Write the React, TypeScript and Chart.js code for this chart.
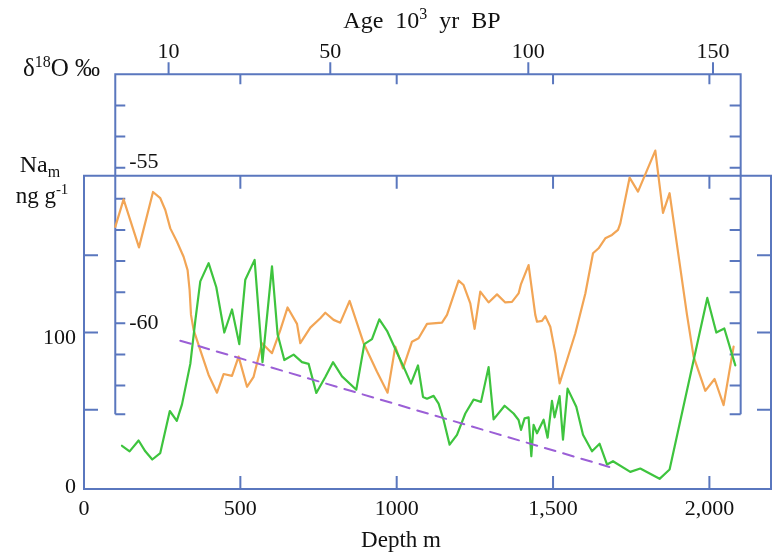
import React, { useEffect, useRef } from 'react';
import { Chart, registerables } from 'chart.js';

Chart.register(...registerables);

// δ18O record (orange), depth in m
const orangeDepth = [100, 126.6, 175.9, 220.7, 244, 260, 276, 297.4, 318.5, 331.3, 337.7, 342.2, 350.5, 371.9, 398.5, 425.3, 446.4, 473.3, 494.4, 521.3, 542.4, 569.2, 601.2, 627.8, 651.1, 681.2, 691.7, 723.7, 755.7, 771.7, 798.2, 819.6, 849.4, 894.2, 937.0, 970.9, 995.5, 1020.1, 1048.9, 1070.0, 1096.9, 1144.9, 1160.9, 1197.9, 1213.9, 1235.4, 1249.1, 1267.3, 1293.9, 1320.8, 1347.3, 1368.7, 1389.8, 1397.5, 1421.8, 1443.2, 1448.7, 1464.7, 1475.2, 1491.2, 1507.2, 1521.0, 1544.6, 1571.3, 1603.3, 1627.8, 1645.7, 1667.1, 1688.5, 1707.7, 1715.1, 1744.8, 1771.7, 1827.0, 1851.6, 1872.7, 1928.4, 1949.5, 1986.9, 2016.6, 2045.4, 2077.4];
const orangeD18O = [-56.90, -56.02, -57.56, -55.78, -55.98, -56.36, -56.95, -57.38, -57.86, -58.29, -58.93, -59.73, -60.21, -60.86, -61.66, -62.23, -61.63, -61.69, -61.07, -62.04, -61.72, -60.64, -60.96, -60.22, -59.49, -60.02, -60.64, -60.14, -59.84, -59.66, -59.89, -59.98, -59.28, -60.64, -61.56, -62.23, -60.75, -61.45, -60.59, -60.48, -60.02, -59.98, -59.73, -58.63, -58.77, -59.36, -60.18, -58.98, -59.33, -59.07, -59.33, -59.31, -59.04, -58.74, -58.13, -59.73, -59.95, -59.92, -59.77, -60.11, -60.96, -61.93, -61.18, -60.32, -59.04, -57.75, -57.59, -57.27, -57.16, -57.00, -56.79, -55.32, -55.77, -54.45, -56.45, -55.82, -59.73, -61.07, -62.17, -61.79, -62.63, -60.75];

// Na_m record (green)
const greenDepth = [121.5, 145.8, 174.6, 196.0, 218.4, 243.9, 274.4, 296.8, 313.4, 340, 355.9, 371.9, 398.5, 423.1, 448.7, 473.3, 496.6, 515.8, 545.6, 570.8, 601.2, 619.1, 640.6, 670.3, 697.2, 718.3, 742.9, 771.7, 796.3, 825.1, 870.8, 896.4, 921.0, 944.4, 969.0, 1002.9, 1020.1, 1045.7, 1068.1, 1084.1, 1096.9, 1118.0, 1134.0, 1150.0, 1169.2, 1192.8, 1219.4, 1245.9, 1269.6, 1293.9, 1309.9, 1345.1, 1373.8, 1389.8, 1397.5, 1409.0, 1421.8, 1430.5, 1437.8, 1448.7, 1469.8, 1482.6, 1496.6, 1504.9, 1520.9, 1531.8, 1546.5, 1574.3, 1595.8, 1624.6, 1648.9, 1672.5, 1691.7, 1747.0, 1779.0, 1840.7, 1872.7, 1993.3, 2022.1, 2047.7, 2082.9];
const greenNa = [26.7, 23.1, 30.1, 23.1, 17.8, 22.0, 49.2, 42.8, 53.5, 79.7, 107.5, 133.1, 144.9, 129.3, 100, 114.9, 92.5, 134.2, 147.0, 80.8, 142.8, 98.9, 82.2, 85.7, 80.8, 79.7, 60.9, 71.2, 80.8, 71.6, 63.0, 92.5, 95.7, 108.5, 101.1, 86.1, 78.7, 66.9, 78.7, 58.3, 57.2, 59.0, 54.0, 43.4, 27.4, 33.8, 47.6, 56.6, 55.1, 77.6, 43.8, 52.6, 47.6, 43.4, 37.0, 44.4, 45.1, 19.9, 40.2, 34.8, 43.6, 31.9, 55.8, 45.1, 58.8, 30.6, 63.7, 51.9, 33.8, 23.1, 28.0, 14.6, 16.7, 9.8, 12.0, 5.3, 11.3, 122.4, 100, 102.6, 78.7];

// dashed trend (purple)
const trendDepth = [308, 1680];
const trendNa = [94.7, 13.0];

// axes
const depthTicks = [500, 1000, 1500, 2000];
const depthLabelValues = [0, 500, 1000, 1500, 2000];
const depthLabels = ['0', '500', '1000', '1,500', '2,000'];
const ageTickDepths = [270.5, 787.6, 1420.9, 2011.5];
const ageLabels = ['10', '50', '100', '150'];
const naTicks = [50, 100, 150];
const naLabelValues = [0, 100];
const naLabels = ['0', '100'];
const d18OTicks = [-53, -54, -55, -56, -57, -58, -59, -60, -61, -62];
const d18OLabelValues = [-55, -60];
const d18OLabels = ['-55', '-60'];

// frame limits
const NA_BOX_TOP = 201.5;
const D18O_BOX_LEFT = 100;
const D18O_BOX_RIGHT = 2100;
const D18O_BOX_TOP = -52;
const D18O_BOX_BOTTOM = -62.92;

const BLUE = '#5A77BE';
const ORANGE = '#F2A555';
const GREEN = '#3EC43E';
const PURPLE = '#9B5FD6';
const FONT = '"Liberation Serif", "Times New Roman", serif';

type Part = { t: string; size: number; dy: number };

function drawRich(ctx: CanvasRenderingContext2D, parts: Part[], x: number, y: number, align: 'left' | 'center' | 'right') {
  let total = 0;
  const widths = parts.map((p) => {
    ctx.font = `${p.size}px ${FONT}`;
    const w = ctx.measureText(p.t).width;
    total += w;
    return w;
  });
  let cx = align === 'left' ? x : align === 'center' ? x - total / 2 : x - total;
  ctx.textAlign = 'left';
  ctx.textBaseline = 'alphabetic';
  parts.forEach((p, i) => {
    ctx.font = `${p.size}px ${FONT}`;
    ctx.fillText(p.t, cx, y + p.dy);
    cx += widths[i];
  });
}

const framePlugin = {
  id: 'frames',
  beforeDatasetsDraw(chart: any) {
    const { ctx, scales, chartArea } = chart;
    const x = scales.x;
    const yN = scales.yNa;
    const yD = scales.yD;
    const L = chartArea.left;
    const R = chartArea.right;
    const B = chartArea.bottom;
    const T = yN.getPixelForValue(NA_BOX_TOP);
    ctx.save();
    ctx.strokeStyle = BLUE;
    ctx.lineWidth = 2;
    ctx.lineCap = 'butt';

    // outer Na box
    ctx.beginPath();
    ctx.rect(L, T, R - L, B - T);
    ctx.stroke();
    ctx.beginPath();
    depthTicks.forEach((d) => {
      const px = x.getPixelForValue(d);
      ctx.moveTo(px, B);
      ctx.lineTo(px, B - 13);
      ctx.moveTo(px, T);
      ctx.lineTo(px, T + 13);
    });
    naTicks.forEach((v) => {
      const py = yN.getPixelForValue(v);
      ctx.moveTo(L, py);
      ctx.lineTo(L + 14, py);
      ctx.moveTo(R, py);
      ctx.lineTo(R - 14, py);
    });
    ctx.stroke();

    // inner δ18O box
    const IL = x.getPixelForValue(D18O_BOX_LEFT);
    const IR = x.getPixelForValue(D18O_BOX_RIGHT);
    const IT = yD.getPixelForValue(D18O_BOX_TOP);
    const IB = yD.getPixelForValue(D18O_BOX_BOTTOM);
    ctx.beginPath();
    ctx.moveTo(IL, IB);
    ctx.lineTo(IL, IT);
    ctx.lineTo(IR, IT);
    ctx.lineTo(IR, IB);
    ctx.stroke();
    ctx.beginPath();
    [...d18OTicks, D18O_BOX_BOTTOM].forEach((v) => {
      const py = yD.getPixelForValue(v);
      ctx.moveTo(IL, py);
      ctx.lineTo(IL + 10, py);
      ctx.moveTo(IR, py);
      ctx.lineTo(IR - 11, py);
    });
    depthTicks.forEach((d) => {
      const px = x.getPixelForValue(d);
      ctx.moveTo(px, IT);
      ctx.lineTo(px, IT + 10);
    });
    ageTickDepths.forEach((d) => {
      const px = x.getPixelForValue(d);
      ctx.moveTo(px, IT);
      ctx.lineTo(px, IT - 12);
    });
    ctx.stroke();
    ctx.restore();
  },
  afterDraw(chart: any) {
    const { ctx, scales, chartArea } = chart;
    const x = scales.x;
    const yN = scales.yNa;
    const yD = scales.yD;
    const L = chartArea.left;
    const B = chartArea.bottom;
    const IT = yD.getPixelForValue(D18O_BOX_TOP);
    const IL = x.getPixelForValue(D18O_BOX_LEFT);
    ctx.save();
    ctx.fillStyle = '#111';
    ctx.font = `22px ${FONT}`;
    ctx.textBaseline = 'middle';

    // bottom depth labels
    ctx.textAlign = 'center';
    depthLabelValues.forEach((d, i) => {
      ctx.fillText(depthLabels[i], x.getPixelForValue(d), B + 20);
    });
    ctx.font = `23px ${FONT}`;
    ctx.fillText('Depth m', 401, B + 52);
    ctx.font = `22px ${FONT}`;

    // top age labels
    ageTickDepths.forEach((d, i) => {
      ctx.fillText(ageLabels[i], x.getPixelForValue(d), IT - 22);
    });

    // Na labels
    ctx.textAlign = 'right';
    naLabelValues.forEach((v, i) => {
      const py = Math.min(yN.getPixelForValue(v) + 6, B - 2);
      ctx.fillText(naLabels[i], L - 8, py);
    });

    // δ18O labels
    ctx.textAlign = 'left';
    d18OLabelValues.forEach((v, i) => {
      const py = yD.getPixelForValue(v);
      ctx.fillText(d18OLabels[i], IL + 14, v === -55 ? py - 5 : py);
    });

    // titles
    drawRich(ctx, [
      { t: 'Age  10', size: 24, dy: 0 },
      { t: '3', size: 16, dy: -9 },
      { t: '  yr  BP', size: 24, dy: 0 },
    ], 422, 28, 'center');
    drawRich(ctx, [
      { t: 'δ', size: 25, dy: 0 },
      { t: '18', size: 16, dy: -9 },
      { t: 'O ‰', size: 25, dy: 0 },
    ], 23, 76, 'left');
    drawRich(ctx, [
      { t: 'Na', size: 24, dy: 0 },
      { t: 'm', size: 16, dy: 5 },
    ], 40, 172, 'center');
    drawRich(ctx, [
      { t: 'ng g', size: 23, dy: 0 },
      { t: '-1', size: 15, dy: -9 },
    ], 42, 203, 'center');
    ctx.restore();
  },
};

export default function App() {
  const ref = useRef<HTMLCanvasElement | null>(null);
  useEffect(() => {
    if (!ref.current) return;
    const orangeData = orangeDepth.map((d, i) => ({ x: d, y: orangeD18O[i] }));
    const greenData = greenDepth.map((d, i) => ({ x: d, y: greenNa[i] }));
    const trendData = trendDepth.map((d, i) => ({ x: d, y: trendNa[i] }));
    const chart = new Chart(ref.current, {
      type: 'line',
      data: {
        datasets: [
          {
            label: 'Na_m trend',
            data: trendData,
            yAxisID: 'yNa',
            borderColor: PURPLE,
            borderWidth: 2,
            borderDash: [11, 8],
            pointRadius: 0,
            fill: false,
          },
          {
            label: 'Na_m',
            data: greenData,
            yAxisID: 'yNa',
            borderColor: GREEN,
            borderWidth: 2.2,
            pointRadius: 0,
            tension: 0,
            fill: false,
          },
          {
            label: 'δ18O',
            data: orangeData,
            yAxisID: 'yD',
            borderColor: ORANGE,
            borderWidth: 2.2,
            pointRadius: 0,
            tension: 0,
            fill: false,
          },
        ],
      },
      options: {
        animation: false,
        responsive: false,
        maintainAspectRatio: false,
        devicePixelRatio: 1,
        layout: { padding: { left: 84, right: 1, top: 75, bottom: 64 } },
        plugins: { legend: { display: false }, tooltip: { enabled: false } },
        elements: { line: { borderJoinStyle: 'round', borderCapStyle: 'round' } },
        scales: {
          x: { type: 'linear', display: false, min: 0, max: 2197 },
          yNa: { type: 'linear', display: false, min: -1.28, max: 266.67 },
          yD: { type: 'linear', display: false, min: -65.325, max: -52.021 },
        },
      },
      plugins: [framePlugin],
    } as any);
    return () => chart.destroy();
  }, []);
  return (
    <div style={{ position: 'absolute', left: 0, top: 0, width: 772, height: 553, background: '#fff' }}>
      <canvas ref={ref} width={772} height={553} style={{ display: 'block' }} />
    </div>
  );
}
